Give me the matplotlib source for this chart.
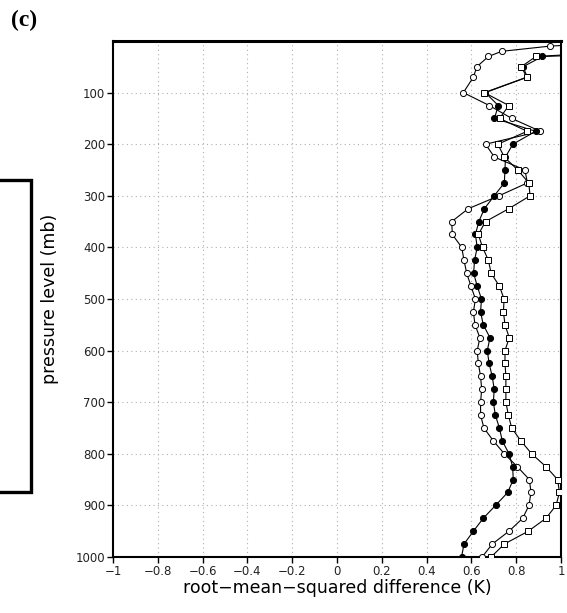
import matplotlib
matplotlib.use('Agg')
import matplotlib.pyplot as plt
from matplotlib.lines import Line2D
import numpy as np

# pressure levels (mb)
levels = [5, 10, 20, 30, 50, 70] + list(range(100, 1001, 25))

# rms difference (K) for each experiment, top to bottom
rms_open = [1.15, 0.949, 0.735, 0.676, 0.624, 0.609,
            0.564, 0.680, 0.780, 0.908, 0.663, 0.703, 0.839, 0.850, 0.723,
            0.586, 0.512, 0.515, 0.557, 0.567, 0.579, 0.598, 0.618,
            0.609, 0.616, 0.638, 0.626, 0.631, 0.641, 0.646, 0.641, 0.641,
            0.656, 0.698, 0.747, 0.805, 0.859, 0.866, 0.857, 0.829, 0.768,
            0.693, 0.648]
rms_filled = [1.9, 1.8, 1.6, 0.917, 0.830, 0.850,
              0.662, 0.720, 0.703, 0.887, 0.785, 0.752, 0.750, 0.747, 0.702,
              0.658, 0.633, 0.618, 0.626, 0.614, 0.610, 0.626, 0.645,
              0.641, 0.653, 0.683, 0.671, 0.679, 0.693, 0.702, 0.698, 0.707,
              0.725, 0.738, 0.768, 0.784, 0.787, 0.762, 0.708, 0.653, 0.609,
              0.567, 0.556]
rms_square = [1.6, 1.5, 1.3, 0.888, 0.822, 0.848,
              0.658, 0.767, 0.726, 0.849, 0.718, 0.747, 0.807, 0.856, 0.862,
              0.767, 0.663, 0.631, 0.650, 0.676, 0.688, 0.725, 0.746,
              0.743, 0.750, 0.769, 0.750, 0.750, 0.754, 0.754, 0.754, 0.765,
              0.780, 0.821, 0.869, 0.933, 0.985, 0.993, 0.978, 0.933, 0.854,
              0.747, 0.688]

xticks = np.round(np.arange(-1, 1.01, 0.2), 1)
yticks = list(range(100, 1001, 100))

fig = plt.figure(figsize=(5.67, 6.13), dpi=100)
ax = fig.add_axes([0.1993, 0.0914, 0.7901, 0.8417])

ax.plot(rms_open, levels, '-o', color='black', lw=0.8, ms=4.4,
        mfc='white', mec='black', mew=0.7, zorder=3)
ax.plot(rms_filled, levels, '-o', color='black', lw=0.8, ms=4.4,
        mfc='black', mec='black', mew=0.7, zorder=4)
ax.plot(rms_square, levels, '-s', color='black', lw=0.8, ms=5.0,
        mfc='white', mec='black', mew=0.7, zorder=5)

ax.set_xlim(-1, 1)
ax.set_ylim(1000, 0)

def fmt(v):
    if v == 0:
        return '0'
    s = ('%g' % abs(v))
    return ('\u2212' + s) if v < 0 else s

ax.set_xticks(xticks)
ax.set_xticklabels([fmt(v) for v in xticks], fontsize=8.5, color='#222222')
ax.set_yticks(yticks)
ax.set_yticklabels([str(v) for v in yticks], fontsize=8.5, color='#222222')
ax.tick_params(direction='out', length=4, width=1, pad=1.5)

# dotted grid at interior ticks only
for v in xticks[1:-1]:
    ax.axvline(v, color='#b0b0b0', lw=0.8, ls=(0, (1, 3)), zorder=1)
for v in yticks[:-1]:
    ax.axhline(v, color='#b0b0b0', lw=0.8, ls=(0, (1, 3)), zorder=1)

for side in ['left', 'right', 'bottom']:
    ax.spines[side].set_linewidth(1.5)
ax.spines['top'].set_linewidth(2.2)

ax.set_xlabel('root\u2212mean\u2212squared difference (K)', fontsize=12.5, labelpad=1)
ax.set_ylabel('pressure level (mb)', fontsize=12.5, labelpad=12)

fig.text(0.02, 0.966, '(c)', fontsize=17, fontweight='bold',
         family='Liberation Serif', ha='left', va='center')

# bracket at the left edge
bx = [0.0, 0.0547, 0.0547, 0.0]
by = [0.7064, 0.7064, 0.1974, 0.1974]
fig.add_artist(Line2D(bx, by, transform=fig.transFigure, color='black', lw=2.4,
                      solid_joinstyle='miter'))

fig.savefig('out.png', dpi=100)
